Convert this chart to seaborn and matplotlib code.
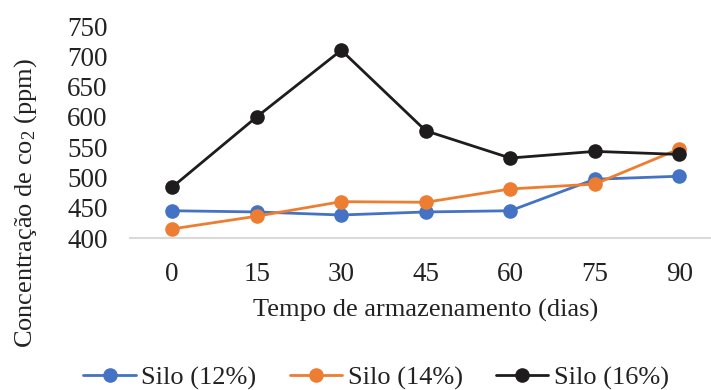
import matplotlib
matplotlib.use("Agg")
import matplotlib.pyplot as plt
import seaborn as sns
import pandas as pd

days = [0, 15, 30, 45, 60, 75, 90]
silo_12 = [445, 443, 438, 443, 445, 497, 502]
silo_14 = [415, 436, 460, 459, 481, 489, 547]
silo_16 = [484, 600, 710, 577, 532, 543, 538]
series_names = ["Silo (12%)", "Silo (14%)", "Silo (16%)"]
colors = ["#4472C4", "#ED7D31", "#1E1C1D"]
y_ticks = [400, 450, 500, 550, 600, 650, 700, 750]

df = pd.DataFrame({
    "dia": days * 3,
    "co2": silo_12 + silo_14 + silo_16,
    "serie": [series_names[0]] * 7 + [series_names[1]] * 7 + [series_names[2]] * 7,
})

sns.set_theme(style="white")
plt.rcParams["font.family"] = ["Liberation Serif", "DejaVu Serif"]
plt.rcParams["mathtext.fontset"] = "custom"
plt.rcParams["mathtext.rm"] = "Liberation Serif"
plt.rcParams["mathtext.it"] = "Liberation Serif"

FS = 19
TXT = "#222222"

fig = plt.figure(figsize=(7.11, 3.9), dpi=100)
ax = fig.add_axes([130 / 711, 1 - 238 / 390, 591.5 / 711, 212 / 390])

sns.lineplot(data=df, x="dia", y="co2", hue="serie", hue_order=series_names,
             palette=colors, marker="o", markersize=10.5, markeredgewidth=0,
             linewidth=2, ax=ax, legend=False)

ax.set_xlim(-7.5, 97.5)
ax.set_ylim(400, 750)
ax.set_xticks(days)
ax.set_yticks(y_ticks)
ax.tick_params(axis="both", length=0, labelsize=19.5, colors=TXT)
ax.tick_params(axis="y", pad=16)
ax.tick_params(axis="x", pad=17)
for s in ["top", "right", "left"]:
    ax.spines[s].set_visible(False)
ax.spines["bottom"].set_color("#D9D9D9")
ax.spines["bottom"].set_linewidth(1.5)
ax.set_xlabel("")
ax.set_ylabel("")

fig.text(426 / 711, 1 - 310 / 390, "Tempo de armazenamento (dias)",
         ha="center", va="center", fontsize=FS, color=TXT)
fig.text(26 / 711, 1 - 203 / 390, "Concentração de co$_2$ (ppm)",
         ha="center", va="center", rotation=90, fontsize=FS, color=TXT)

handles = [plt.Line2D([], [], color=c, marker="o", markersize=10.5,
                      markeredgewidth=0, linewidth=2) for c in colors]
fig.legend(handles, series_names, loc="center", ncol=3,
           bbox_to_anchor=(376 / 711, 1 - 378 / 390), frameon=False,
           fontsize=FS, handlelength=2.0, columnspacing=1.25, handletextpad=0.2,
           labelcolor=TXT, borderaxespad=0, borderpad=0)

fig.savefig("out.png", dpi=100)
